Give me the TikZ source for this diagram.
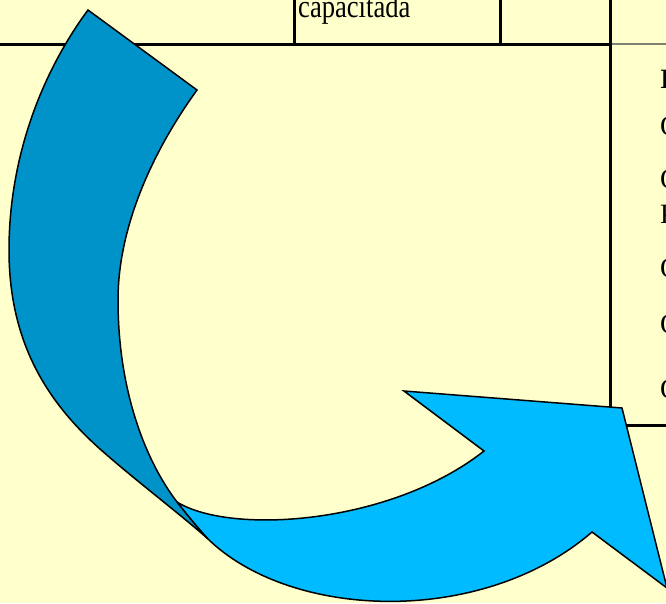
\documentclass[tikz,border=0pt]{standalone}
\usepackage{fontspec}
\setmainfont{Liberation Serif}
\begin{document}
\begin{tikzpicture}[x=1pt,y=-1pt,
  tableline/.style={line width=3pt,black},
  thinline/.style={line width=1.6pt,color={rgb,255:red,128;green,128;blue,112}},
  darkpart/.style={fill={rgb,255:red,0;green,147;blue,201},draw=black,line width=1.5pt,line join=miter},
  lightpart/.style={fill={rgb,255:red,0;green,187;blue,255},draw=black,line width=1.5pt,line join=miter},
  celltext/.style={anchor=base west,inner sep=0pt,font=\fontsize{28}{30}\selectfont}]
\useasboundingbox (0,0) rectangle (666,603);
\fill[fill={rgb,255:red,255;green,255;blue,204}] (0,0) rectangle (666,603);
\begin{scope}
\clip (0,0) rectangle (666,603);
% table
\draw[tableline] (0,44) -- (611.5,44);
\draw[thinline] (611.5,44) -- (666,44);
\draw[tableline] (294,0) -- (294,44);
\draw[tableline] (500,0) -- (500,44);
\draw[tableline] (610,0) -- (610,425);
\draw[tableline] (610,425) -- (666,425);
% texts
\node[celltext] (t0) at (298,17) {\scalebox{0.95}[1.15]{capacitada}};
\node[celltext] (r1) at (660,88) {\textbf{I}};
\node[celltext] (r2) at (660,135) {O};
\node[celltext] (r3) at (660,188) {O};
\node[celltext] (r4) at (660,223) {P};
\node[celltext] (r5) at (660,277) {O};
\node[celltext] (r6) at (660,333) {O};
\node[celltext] (r7) at (660,398) {O};
% arrow, front part
\filldraw[lightpart] (177,502) .. controls (230,535) and (390,525) .. (484,451)
  -- (404,391) -- (622,408) -- (667,588) -- (592,532)
  .. controls (482,627) and (290,620) .. (207,538)
  .. controls (197,527) and (187,515) .. (177,502) -- cycle;
% arrow, back part
\filldraw[darkpart] (88,10) -- (197,90)
  .. controls (150,155) and (118,230) .. (118,300)
  .. controls (118,390) and (145,460) .. (177,502)
  .. controls (187,515) and (197,527) .. (207,538)
  .. controls (175,510) and (135,480) .. (100,449)
  .. controls (45,400) and (9,340) .. (9,250)
  .. controls (9,160) and (40,75) .. (88,10)
  -- cycle;
\end{scope}
\end{tikzpicture}
\end{document}
